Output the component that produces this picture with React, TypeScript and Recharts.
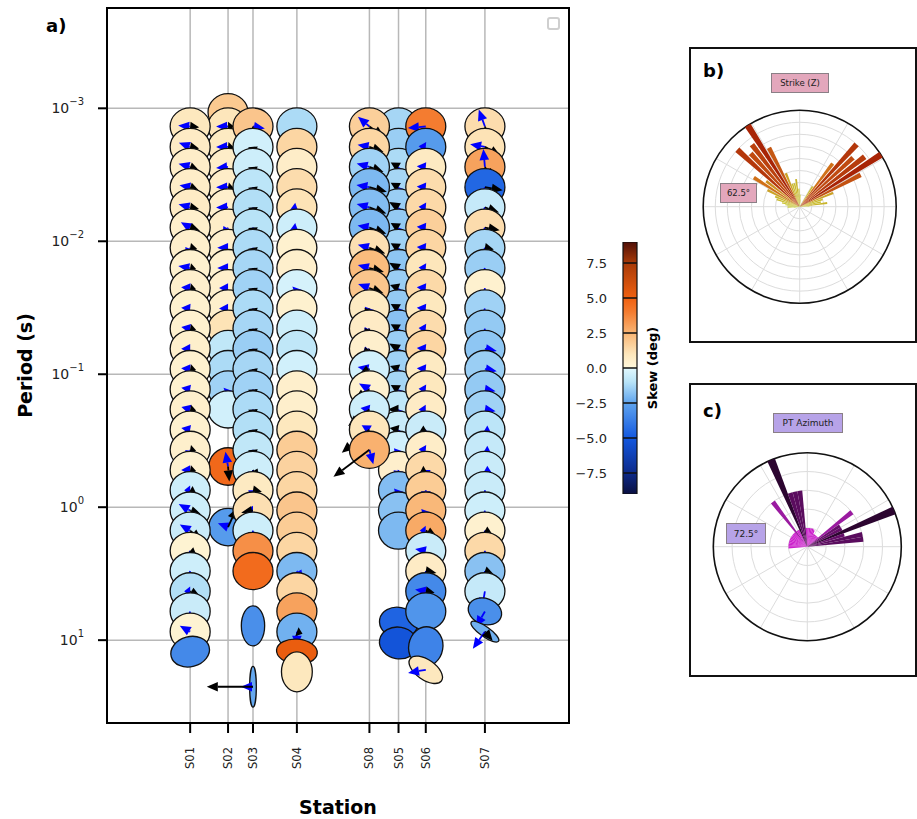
import React from "react";
import {
  ScatterChart,
  Scatter,
  XAxis,
  YAxis,
  CartesianGrid,
  ReferenceArea,
  ReferenceLine,
  BarChart,
  Bar,
  RadialBarChart,
  RadialBar,
  PolarGrid,
  PolarAngleAxis,
  PolarRadiusAxis,
  Cell,
  Label,
} from "recharts";

const FONT = "DejaVu Sans, Verdana, sans-serif";

// stations along the profile (distance units of the x axis)
const STATIONS = ["S01", "S02", "S03", "S04", "S08", "S05", "S06", "S07"];
const STATION_DIST = [18.0, 26.2, 31.6, 41.1, 56.8, 63.1, 69.0, 81.8];

// common period grid (s)
const PERIODS = [
  0.00137, 0.00195, 0.00276, 0.00392, 0.00556, 0.00789, 0.0112, 0.0159, 0.0225, 0.032,
  0.0454, 0.0644, 0.0914, 0.13, 0.184, 0.261, 0.37, 0.525, 0.745, 1.06, 1.5, 2.13, 3.02,
  4.29, 6.08, 8.63, 12.2, 17.3,
];

// skew (deg) per station on the period grid
const S01_SKEW = [0.9, 0.7, 0.6, 0.6, 0.7, 0.5, 0.5, 0.4, 0.5, 0.4, 0.4, 0.5, 0.4, 0.4, 0.5, 0.4, 0.5, 0.4, -0.5, -0.5, -0.6, 0.3, -0.5, -1.1, -0.6, 0.3];
const S02_SKEW = [1.0, 0.8, 0.6, 0.6, 0.5, 0.6, 0.5, 0.4, 0.5, 0.5, 1.1, -0.8, -1.2, -1.4, -0.4];
const S03_SKEW = [2.0, -0.4, -0.5, -0.9, -1.1, -1.0, -1.2, -1.3, -1.4, -1.2, -1.3, -1.5, -1.3, -1.4, -1.2, -1.1, -0.8, -0.5, 0.8, 1.2, -0.5, 3.5, 4.6];
const S04_SKEW = [-1.2, 1.5, 0.6, 1.3, 1.1, -0.5, 0.4, 0.5, -0.3, 0.4, -0.5, -0.8, -0.4, 0.5, 0.5, 0.9, 1.8, 1.6, 1.5, 2.0, 1.8, 1.5, -2.0, 1.5, 3.0, -2.2];
const S08_SKEW = [1.7, 1.5, -1.4, -2.0, -1.9, -2.0, 1.2, 2.3, 2.0, 0.8, 0.7, 0.5, -0.4, 0.4, -0.5, 1.0, 2.6];
const S05_SKEW = [-1.3, -1.5, -1.2, -1.3, -1.5, -1.6, -1.4, -1.7, -1.5, -1.6, -1.8, -1.5, -1.4, -1.3, -0.8, -0.6, -0.4, 0.5, -1.9, -1.8, -2.0];
const S06_SKEW = [4.0, -2.8, 0.8, 1.3, 1.4, 1.7, 1.5, 1.0, 1.4, 0.9, 1.3, 1.5, 0.8, 0.9, 0.7, -0.6, 0.6, 1.4, 1.8, 2.4, 2.8, -0.6, 0.7, -3.4, -3.0];
const S07_SKEW = [1.3, 1.1, 3.0, -4.5, -0.7, 1.3, -1.3, -1.5, 0.4, -1.4, -1.6, -1.7, -1.5, -1.6, -1.4, -0.9, -0.7, -0.6, -0.6, -0.5, 0.4, 1.4, -1.8, -0.7];

// induction arrows [azimuth deg, magnitude]: real (blue) and imaginary (black)
type Arrow = number[] | null;
const S01_RE: Arrow[] = [[275, 0.2], [290, 0.2], [285, 0.2], [280, 0.18], [285, 0.2], [300, 0.18], [200, 0.2], [280, 0.2], [275, 0.15], [275, 0.15], [280, 0.15], [270, 0.15], [275, 0.15], [280, 0.15], [285, 0.15], [280, 0.15], [190, 0.2], [270, 0.15], [270, 0.1], [300, 0.22], [300, 0.2], [200, 0.25], [200, 0.25], [270, 0.1], [195, 0.28], [300, 0.2]];
const S01_IM: Arrow[] = [[95, 0.15], [100, 0.15], [110, 0.15], [110, 0.15], [100, 0.15], [110, 0.18], [100, 0.12], [100, 0.1], [100, 0.1], null, [100, 0.1], null, [100, 0.1], null, [100, 0.1], null, [100, 0.1], [100, 0.1], [120, 0.12], [110, 0.2], [130, 0.25], [130, 0.15], null, [120, 0.2], null, null];
const S02_RE: Arrow[] = [[270, 0.2], [270, 0.2], [265, 0.2], [270, 0.2], [270, 0.2], [210, 0.2], [270, 0.18], [270, 0.18], [270, 0.15], [270, 0.15], null, null, null, [200, 0.1], null];
const S02_IM: Arrow[] = [[90, 0.1], [95, 0.1], null, [100, 0.1], null, null, null, null, null, null, null, null, null, null, null];
const S03_RE: Arrow[] = [[100, 0.2], [180, 0.25], [180, 0.25], [182, 0.25], [180, 0.25], [178, 0.25], [180, 0.25], [180, 0.25], [182, 0.25], [180, 0.25], [180, 0.25], [178, 0.25], [180, 0.25], [180, 0.25], [182, 0.25], [180, 0.25], [180, 0.25], [185, 0.22], [180, 0.15], [270, 0.12], [185, 0.22], null, null];
const S03_IM: Arrow[] = [[185, 0.25], [175, 0.15], [175, 0.15], [172, 0.15], [175, 0.15], [175, 0.15], [170, 0.15], [175, 0.15], [175, 0.15], [172, 0.15], [175, 0.15], [175, 0.15], [170, 0.15], [175, 0.15], [175, 0.15], [172, 0.15], [175, 0.15], [150, 0.2], [100, 0.15], [260, 0.2], null, null, null];
const S04_RE: Arrow[] = [null, null, null, null, [250, 0.12], [250, 0.12], null, null, [200, 0.1], null, null, null, null, null, null, null, null, null, null, null, null, null, [150, 0.2], null, null, [180, 0.25]];
const S04_IM: Arrow[] = [null, null, null, null, null, null, null, null, null, null, null, null, null, null, null, null, null, null, null, null, null, null, null, null, null, [110, 0.1]];
const S08_RE: Arrow[] = [[310, 0.25], [280, 0.2], [285, 0.22], [280, 0.22], [285, 0.22], [280, 0.2], [285, 0.2], [285, 0.2], [290, 0.2], [200, 0.18], [210, 0.2], [220, 0.2], [280, 0.2], [300, 0.2], [280, 0.15], [300, 0.15], [165, 0.25]];
const S08_IM: Arrow[] = [[125, 0.3], [110, 0.25], [110, 0.25], [105, 0.3], [110, 0.3], [110, 0.3], [110, 0.28], [105, 0.25], [110, 0.25], [200, 0.2], [200, 0.2], [215, 0.2], [240, 0.2], [235, 0.3], [232, 0.45], [230, 0.6], [233, 0.75]];
const S05_RE: Arrow[] = [null, null, [210, 0.12], [200, 0.1], [210, 0.12], [200, 0.12], [210, 0.1], [200, 0.12], [210, 0.12], [200, 0.1], [210, 0.12], [200, 0.12], [210, 0.1], [200, 0.12], [200, 0.15], [210, 0.15], [200, 0.15], [190, 0.2], [200, 0.12], null, null];
const S05_IM: Arrow[] = [null, null, [300, 0.15], [300, 0.15], [300, 0.18], [300, 0.15], [300, 0.15], [300, 0.18], [290, 0.15], [300, 0.15], [300, 0.15], [300, 0.18], [290, 0.15], [300, 0.15], [270, 0.18], [280, 0.15], null, null, null, null, null];
const S06_RE: Arrow[] = [[265, 0.3], [275, 0.12], [275, 0.15], [275, 0.15], [275, 0.12], [275, 0.15], [275, 0.15], [275, 0.12], [275, 0.15], [275, 0.15], [275, 0.12], [275, 0.15], [275, 0.15], [275, 0.12], [270, 0.12], [200, 0.2], [275, 0.12], [180, 0.18], [180, 0.2], [200, 0.12], [270, 0.1], [280, 0.18], [175, 0.25], [280, 0.18], null];
const S06_IM: Arrow[] = [null, null, null, null, null, null, null, null, null, null, null, null, null, null, null, [240, 0.15], null, [240, 0.12], null, null, [120, 0.22], null, [100, 0.18], [100, 0.15], null];
const S07_RE: Arrow[] = [[340, 0.3], [280, 0.25], [355, 0.3], [200, 0.3], [200, 0.3], [200, 0.3], [195, 0.3], [200, 0.3], [190, 0.3], [200, 0.25], [190, 0.25], [100, 0.2], [100, 0.2], [100, 0.18], [100, 0.18], [120, 0.12], [120, 0.12], [120, 0.15], [180, 0.25], [190, 0.3], [185, 0.3], [180, 0.3], [180, 0.3], [190, 0.3]];
const S07_IM: Arrow[] = [[160, 0.3], [120, 0.3], [150, 0.25], [100, 0.3], [110, 0.25], [100, 0.25], [100, 0.15], null, null, null, null, null, null, null, null, null, null, null, null, null, [120, 0.15], null, [110, 0.15], null];

// off-grid or distorted phase tensors
const EXTRA_ELLIPSES = [
  { st: "S01", period: 12.2, skew: -3.4, phiMax: 47, phiMin: 36, azimuth: 75, re: null, im: null },
  { st: "S02", period: 0.00107, skew: 1.9, phiMax: 48, phiMin: 44.5, azimuth: 90, re: null, im: null },
  { st: "S02", period: 0.494, skew: 4.7, phiMax: 46, phiMin: 45, azimuth: 90, re: [350, 0.25], im: [175, 0.25] },
  { st: "S02", period: 1.41, skew: -2.8, phiMax: 46, phiMin: 45, azimuth: 90, re: [290, 0.18], im: [25, 0.35] },
  { st: "S03", period: 7.8, skew: -3.2, phiMax: 48, phiMin: 28, azimuth: 0, re: null, im: null },
  { st: "S03", period: 22.4, skew: -2.4, phiMax: 49, phiMin: 8, azimuth: 0, re: [270, 0.2], im: [270, 0.77] },
  { st: "S04", period: 12.2, skew: 5.2, phiMax: 49, phiMin: 30, azimuth: 95, re: null, im: null },
  { st: "S04", period: 17.3, skew: 0.9, phiMax: 48, phiMin: 37, azimuth: 0, re: null, im: null },
  { st: "S05", period: 7.4, skew: -4.6, phiMax: 46, phiMin: 37, azimuth: 100, re: null, im: null },
  { st: "S05", period: 10.5, skew: -5.2, phiMax: 46, phiMin: 38, azimuth: 100, re: null, im: null },
  { st: "S06", period: 11.2, skew: -3.6, phiMax: 48, phiMin: 41, azimuth: 10, re: null, im: null },
  { st: "S06", period: 16.7, skew: 0.9, phiMax: 46, phiMin: 24, azimuth: 125, re: [260, 0.3], im: null },
  { st: "S07", period: 6.08, skew: -3.2, phiMax: 41, phiMin: 31, azimuth: 110, re: [210, 0.3], im: null },
  { st: "S07", period: 8.63, skew: -2.2, phiMax: 40, phiMin: 12, azimuth: 125, re: [215, 0.35], im: [140, 0.2] },
];

const PHI_MAX = 48;
const PHI_MIN = 44.5;

// rose diagrams, 5 degree bins from north, clockwise
const ROSE_STRIKE = [
  1.5, 1.0, 0.6, 0, 0, 0, 0, 2.0, 4.5, 7.0, 6.0, 6.8, 8.0, 5.7, 3.0, 2.0, 1.8, 2.3, 0.8, 0,
  0, 0, 0, 0, 0, 0, 0, 0, 0, 0, 0, 0, 0, 0, 0, 0, 0, 0, 0, 0,
  0, 0, 0, 0, 0, 0, 0, 0, 0, 0, 0, 0, 0, 0.5, 1.0, 1.0, 1.2, 1.5, 2.0, 2.2,
  3.0, 4.5, 3.5, 7.0, 6.0, 6.5, 8.0, 5.5, 3.0, 2.0, 2.0, 2.3,
];
const ROSE_PT = [
  1.6, 1.6, 1.6, 1.6, 1.6, 1.5, 1.2, 1.2, 1.2, 1.2, 1.2, 4.8, 3.3, 3.3, 8.0, 3.3, 4.8, 4.8, 0, 0,
  0, 0, 0, 0, 0, 0, 0, 0, 0, 0, 0, 0, 0, 0, 0, 0, 0, 0, 0, 0,
  0, 0, 0, 0, 0, 0, 0, 0, 0, 0, 0, 0, 0, 0, 1.6, 1.6, 1.6, 1.6, 1.6, 1.6,
  1.6, 1.6, 1.6, 1.6, 1.6, 4.8, 1.6, 1.6, 8.0, 4.8, 4.8, 4.8,
];
const ROSE_PT_SHADE = [
  0.1, 0.1, 0.1, 0.1, 0.1, 0.1, 0.15, 0.15, 0.15, 0.15, 0.15, 0.5, 0.75, 0.75, 1, 0.75, 0.8, 0.8, 0, 0,
  0, 0, 0, 0, 0, 0, 0, 0, 0, 0, 0, 0, 0, 0, 0, 0, 0, 0, 0, 0,
  0, 0, 0, 0, 0, 0, 0, 0, 0, 0, 0, 0, 0, 0, 0.1, 0.1, 0.1, 0.1, 0.1, 0.1,
  0.1, 0.1, 0.1, 0.1, 0.1, 0.5, 0.1, 0.1, 1, 0.8, 0.8, 0.8,
];

const Y_TICKS = [0.001, 0.01, 0.1, 1, 10];
const Y_DOMAIN = [0.000176, 41.98];
const CB_TICKS = [-7.5, -5, -2.5, 0, 2.5, 5, 7.5];

// ---- colour helpers ----
const SKEW_STOPS: [number, string][] = [
  [-9, "#0a1040"], [-7.5, "#0d2a8a"], [-5, "#1358e0"], [-2.5, "#5fa4ee"], [-1, "#b8e3f7"],
  [0, "#e2f8fd"], [0, "#fff8dc"], [1, "#fde6bb"], [2.5, "#f9b574"], [4, "#f47c30"],
  [5, "#f06010"], [7.5, "#a83a08"], [9, "#501008"],
];

const hex = (c: string) => [1, 3, 5].map((i) => parseInt(c.slice(i, i + 2), 16));
const mix = (a: string, b: string, t: number) => {
  const A = hex(a), B = hex(b);
  return `rgb(${A.map((v, i) => Math.round(v + (B[i] - v) * t)).join(",")})`;
};
const rampColor = (stops: [number, string][], v: number) => {
  if (v <= stops[0][0]) return stops[0][1];
  for (let i = 0; i < stops.length - 1; i++) {
    const [a, ca] = stops[i], [b, cb] = stops[i + 1];
    if (v >= a && v <= b && b > a) return mix(ca, cb, (v - a) / (b - a));
  }
  return stops[stops.length - 1][1];
};
const skewColor = (v: number) => rampColor(SKEW_STOPS, v);
const strikeColor = (v: number) =>
  rampColor([[0, "#c8dc3c"], [2.5, "#c9b22a"], [4.5, "#d07018"], [6, "#c04a10"], [8, "#a82406"]], v);
const ptColor = (s: number) =>
  rampColor([[0, "#d424d4"], [0.15, "#c81ec8"], [0.5, "#9a1aa0"], [0.8, "#5a0c5e"], [1, "#2c0530"]], s);

// ---- table for the scatter ----
const GRID_SERIES: Record<string, { skew: number[]; re: Arrow[]; im: Arrow[] }> = {
  S01: { skew: S01_SKEW, re: S01_RE, im: S01_IM },
  S02: { skew: S02_SKEW, re: S02_RE, im: S02_IM },
  S03: { skew: S03_SKEW, re: S03_RE, im: S03_IM },
  S04: { skew: S04_SKEW, re: S04_RE, im: S04_IM },
  S08: { skew: S08_SKEW, re: S08_RE, im: S08_IM },
  S05: { skew: S05_SKEW, re: S05_RE, im: S05_IM },
  S06: { skew: S06_SKEW, re: S06_RE, im: S06_IM },
  S07: { skew: S07_SKEW, re: S07_RE, im: S07_IM },
};
const DRAW_ORDER = ["S02", "S05", "S01", "S03", "S04", "S08", "S06", "S07"];

const POINTS = DRAW_ORDER.flatMap((st) => {
  const x = STATION_DIST[STATIONS.indexOf(st)];
  const g = GRID_SERIES[st];
  const rows = g.skew.map((skew, k) => ({
    x, period: PERIODS[k], skew, phiMax: PHI_MAX, phiMin: PHI_MIN, azimuth: 90,
    re: g.re[k] ?? null, im: g.im[k] ?? null,
  }));
  const extra = EXTRA_ELLIPSES.filter((e) => e.st === st).map((e) => ({ ...e, x }));
  return [...rows, ...extra].sort((a, b) => a.period - b.period);
});

const ELL_PX = 20 / 48; // px per degree of phi
const ARROW_PX = 60; // px per unit of induction vector

function arrow(cx: number, cy: number, a: Arrow, color: string) {
  if (!a) return null;
  const len = a[1] * ARROW_PX;
  const r = (a[0] * Math.PI) / 180;
  const dx = Math.sin(r), dy = -Math.cos(r);
  const head = Math.min(len, 11);
  const hw = 4.8;
  const tx = cx + dx * len, ty = cy + dy * len;
  const bx = cx + dx * (len - head), by = cy + dy * (len - head);
  const px = -dy, py = dx;
  return (
    <g>
      {len > head && <line x1={cx} y1={cy} x2={bx} y2={by} stroke={color} strokeWidth={1.8} />}
      <polygon
        points={`${tx},${ty} ${bx + px * hw},${by + py * hw} ${bx - px * hw},${by - py * hw}`}
        fill={color}
      />
    </g>
  );
}

function Ellipse(props: any) {
  const { cx, cy, payload } = props;
  if (cx == null || cy == null) return null;
  const p = payload;
  return (
    <g>
      <ellipse
        cx={cx}
        cy={cy}
        rx={p.phiMax * ELL_PX}
        ry={p.phiMin * ELL_PX}
        transform={`rotate(${p.azimuth - 90}, ${cx}, ${cy})`}
        fill={skewColor(p.skew)}
        stroke="#111"
        strokeWidth={1.3}
      />
      {arrow(cx, cy, p.re, "#0000ff")}
      {arrow(cx, cy, p.im, "#000")}
    </g>
  );
}

function YTick(props: any) {
  const { x, y, payload } = props;
  const e = Math.round(Math.log10(payload.value));
  const es = String(e).replace("-", "\u2212");
  return (
    <text x={x} y={y} textAnchor="end" dominantBaseline="central" fontSize={14} fontFamily={FONT} fill="#222">
      10
      <tspan dy={-7} fontSize={10}>{es}</tspan>
    </text>
  );
}

function XTick(props: any) {
  const { x, payload } = props;
  const name = STATIONS[STATION_DIST.indexOf(payload.value)];
  const y0 = 747;
  return (
    <text
      x={x}
      y={y0}
      dy="0.35em"
      textAnchor="end"
      transform={`rotate(-90, ${x}, ${y0})`}
      fontSize={11.5}
      fontFamily={FONT}
      fill="#222"
    >
      {name}
    </text>
  );
}

const SPOKES = [0, 30, 60, 90, 120, 150, 180, 210, 240, 270, 300, 330];

function Rose({ values, colors, cx, cy, outer, rings, width, height, gap }: any) {
  const data = values.map((v: number, i: number) => ({ bin: i * 5 + 2.5, v }));
  const ringR = Array.from({ length: rings - 1 }, (_, i) => ((i + 1) * outer) / rings);
  return (
    <RadialBarChart
      width={width}
      height={height}
      cx={cx}
      cy={cy}
      innerRadius={0}
      outerRadius={outer}
      data={data}
      layout="centric"
      startAngle={90}
      endAngle={-270}
      barCategoryGap={gap}
      margin={{ top: 0, right: 0, bottom: 0, left: 0 }}
    >
      <PolarGrid gridType="circle" polarAngles={SPOKES} polarRadius={ringR} stroke="#dcdcdc" strokeWidth={1} />
      <PolarAngleAxis type="category" dataKey="bin" tick={false} axisLine={false} tickLine={false} />
      <PolarRadiusAxis type="number" domain={[0, 8]} tick={false} axisLine={false} tickLine={false} />
      <RadialBar dataKey="v" isAnimationActive={false}>
        {data.map((d: any, i: number) => (
          <Cell key={i} fill={colors[i]} />
        ))}
      </RadialBar>
      <PolarGrid gridType="circle" radialLines={false} polarRadius={[outer]} stroke="#111" strokeWidth={1.6} />
    </RadialBarChart>
  );
}

const boxStyle = (bg: string, left: number, top: number, w: number, h: number, fs: number): React.CSSProperties => ({
  position: "absolute",
  left,
  top,
  width: w,
  height: h,
  background: bg,
  border: "1px solid #8a7f86",
  boxSizing: "border-box",
  fontSize: fs,
  fontFamily: FONT,
  color: "#222",
  display: "flex",
  alignItems: "center",
  justifyContent: "center",
  whiteSpace: "nowrap",
});

const panelLabel = (left: number, top: number): React.CSSProperties => ({
  position: "absolute",
  left,
  top,
  fontSize: 18,
  fontWeight: "bold",
  fontFamily: FONT,
  lineHeight: "18px",
});

export default function App() {
  const cbStops = SKEW_STOPS.map(([v, c], i) => (
    <stop key={i} offset={`${((9 - v) / 18) * 100}%`} stopColor={c} />
  )).reverse();

  return (
    <div
      style={{
        position: "absolute",
        left: 0,
        top: 0,
        width: 917,
        height: 819,
        background: "#fff",
        overflow: "hidden",
        fontFamily: FONT,
      }}
    >
      {/* a) phase tensor pseudosection */}
      <div style={{ position: "absolute", left: 0, top: 0 }}>
        <ScatterChart width={690} height={819} margin={{ top: 8, right: 121, bottom: 0, left: 0 }}>
          <CartesianGrid stroke="#b8b8b8" strokeWidth={1.5} />
          <XAxis
            type="number"
            dataKey="x"
            domain={[0, 100]}
            ticks={STATION_DIST}
            interval={0}
            height={96}
            axisLine={false}
            tickSize={10}
            tickLine={{ stroke: "#000", strokeWidth: 2 }}
            tick={<XTick />}
            allowDataOverflow
          >
            <Label
              content={(p: any) => {
                const vb = p.viewBox;
                return (
                  <text
                    x={vb.x + vb.width / 2}
                    y={807}
                    textAnchor="middle"
                    dominantBaseline="central"
                    fontSize={19}
                    fontWeight="bold"
                    fontFamily={FONT}
                  >
                    Station
                  </text>
                );
              }}
            />
          </XAxis>
          <YAxis
            type="number"
            dataKey="period"
            scale="log"
            domain={Y_DOMAIN}
            ticks={Y_TICKS}
            reversed
            allowDataOverflow
            width={107}
            axisLine={false}
            tickSize={9}
            tickMargin={14}
            tickLine={{ stroke: "#000", strokeWidth: 2 }}
            tick={<YTick />}
          >
            <Label
              content={(p: any) => {
                const vb = p.viewBox;
                const lx = vb.x + 25;
                const ly = vb.y + vb.height / 2;
                return (
                  <text
                    x={lx}
                    y={ly}
                    transform={`rotate(-90, ${lx}, ${ly})`}
                    textAnchor="middle"
                    dominantBaseline="central"
                    fontSize={19}
                    fontWeight="bold"
                    fontFamily={FONT}
                  >
                    Period (s)
                  </text>
                );
              }}
            />
          </YAxis>
          <Scatter data={POINTS} shape={(p: any) => <Ellipse {...p} />} isAnimationActive={false} />
          <ReferenceArea
            x1={0}
            x2={100}
            y1={Y_DOMAIN[0]}
            y2={Y_DOMAIN[1]}
            fill="none"
            fillOpacity={0}
            stroke="#000"
            strokeWidth={2}
          />
        </ScatterChart>
      </div>
      <div style={panelLabel(46, 17)}>a)</div>
      <div
        style={{
          position: "absolute",
          left: 547,
          top: 17,
          width: 13,
          height: 13,
          border: "2px solid #cfcfcf",
          borderRadius: 3,
          boxSizing: "border-box",
        }}
      />

      {/* colour bar */}
      <div style={{ position: "absolute", left: 570, top: 232 }}>
        <BarChart
          width={110}
          height={272}
          data={[{ name: "skew", range: [-9, 9] }]}
          margin={{ top: 10, right: 43, bottom: 10, left: 0 }}
          barCategoryGap={0}
        >
          <defs>
            <linearGradient id="skewGrad" x1="0" y1="0" x2="0" y2="1">
              {cbStops}
            </linearGradient>
          </defs>
          <XAxis dataKey="name" hide />
          <YAxis
            type="number"
            domain={[-9, 9]}
            ticks={CB_TICKS}
            allowDataOverflow
            width={53}
            axisLine={false}
            tickLine={false}
            tickMargin={10}
            tick={{ fontSize: 13, fill: "#222", fontFamily: FONT }}
            tickFormatter={(v: number) => v.toFixed(1).replace("-", "\u2212")}
          >
            <Label
              content={(p: any) => {
                const vb = p.viewBox;
                const lx = vb.x + vb.width + 29;
                const ly = vb.y + vb.height / 2;
                return (
                  <text
                    x={lx}
                    y={ly}
                    transform={`rotate(-90, ${lx}, ${ly})`}
                    textAnchor="middle"
                    dominantBaseline="central"
                    fontSize={13}
                    fontWeight="bold"
                    fontFamily={FONT}
                  >
                    Skew (deg)
                  </text>
                );
              }}
            />
          </YAxis>
          <Bar dataKey="range" fill="url(#skewGrad)" stroke="#111" strokeWidth={1.2} isAnimationActive={false} />
          {CB_TICKS.map((t) => (
            <ReferenceLine key={t} y={t} stroke="#111" strokeWidth={1.5} />
          ))}
        </BarChart>
      </div>

      {/* b) strike rose */}
      <div
        style={{
          position: "absolute",
          left: 689,
          top: 47,
          width: 228,
          height: 296,
          border: "2px solid #111",
          boxSizing: "border-box",
        }}
      />
      <div style={{ position: "absolute", left: 689, top: 47 }}>
        <Rose
          values={ROSE_STRIKE}
          colors={ROSE_STRIKE.map(strikeColor)}
          cx={110.7}
          cy={159.7}
          outer={96.5}
          rings={8}
          width={226}
          height={295}
          gap="12%"
        />
      </div>
      <div style={panelLabel(703, 62)}>b)</div>
      <div style={boxStyle("#e3a7bc", 771, 73, 58, 20, 8.5)}>Strike (Z)</div>
      <div style={boxStyle("#e3a7bc", 720, 183, 37, 20, 8.5)}>62.5°</div>

      {/* c) PT azimuth rose */}
      <div
        style={{
          position: "absolute",
          left: 689,
          top: 383,
          width: 228,
          height: 294,
          border: "2px solid #111",
          boxSizing: "border-box",
        }}
      />
      <div style={{ position: "absolute", left: 689, top: 383 }}>
        <Rose
          values={ROSE_PT}
          colors={ROSE_PT_SHADE.map(ptColor)}
          cx={118.3}
          cy={163.7}
          outer={94}
          rings={5}
          width={226}
          height={292}
          gap="3%"
        />
      </div>
      <div style={panelLabel(703, 402)}>c)</div>
      <div style={boxStyle("#b7a3e8", 773, 413, 70, 20, 9)}>PT Azimuth</div>
      <div style={boxStyle("#b7a3e8", 726, 523, 40, 21, 9)}>72.5°</div>
    </div>
  );
}
